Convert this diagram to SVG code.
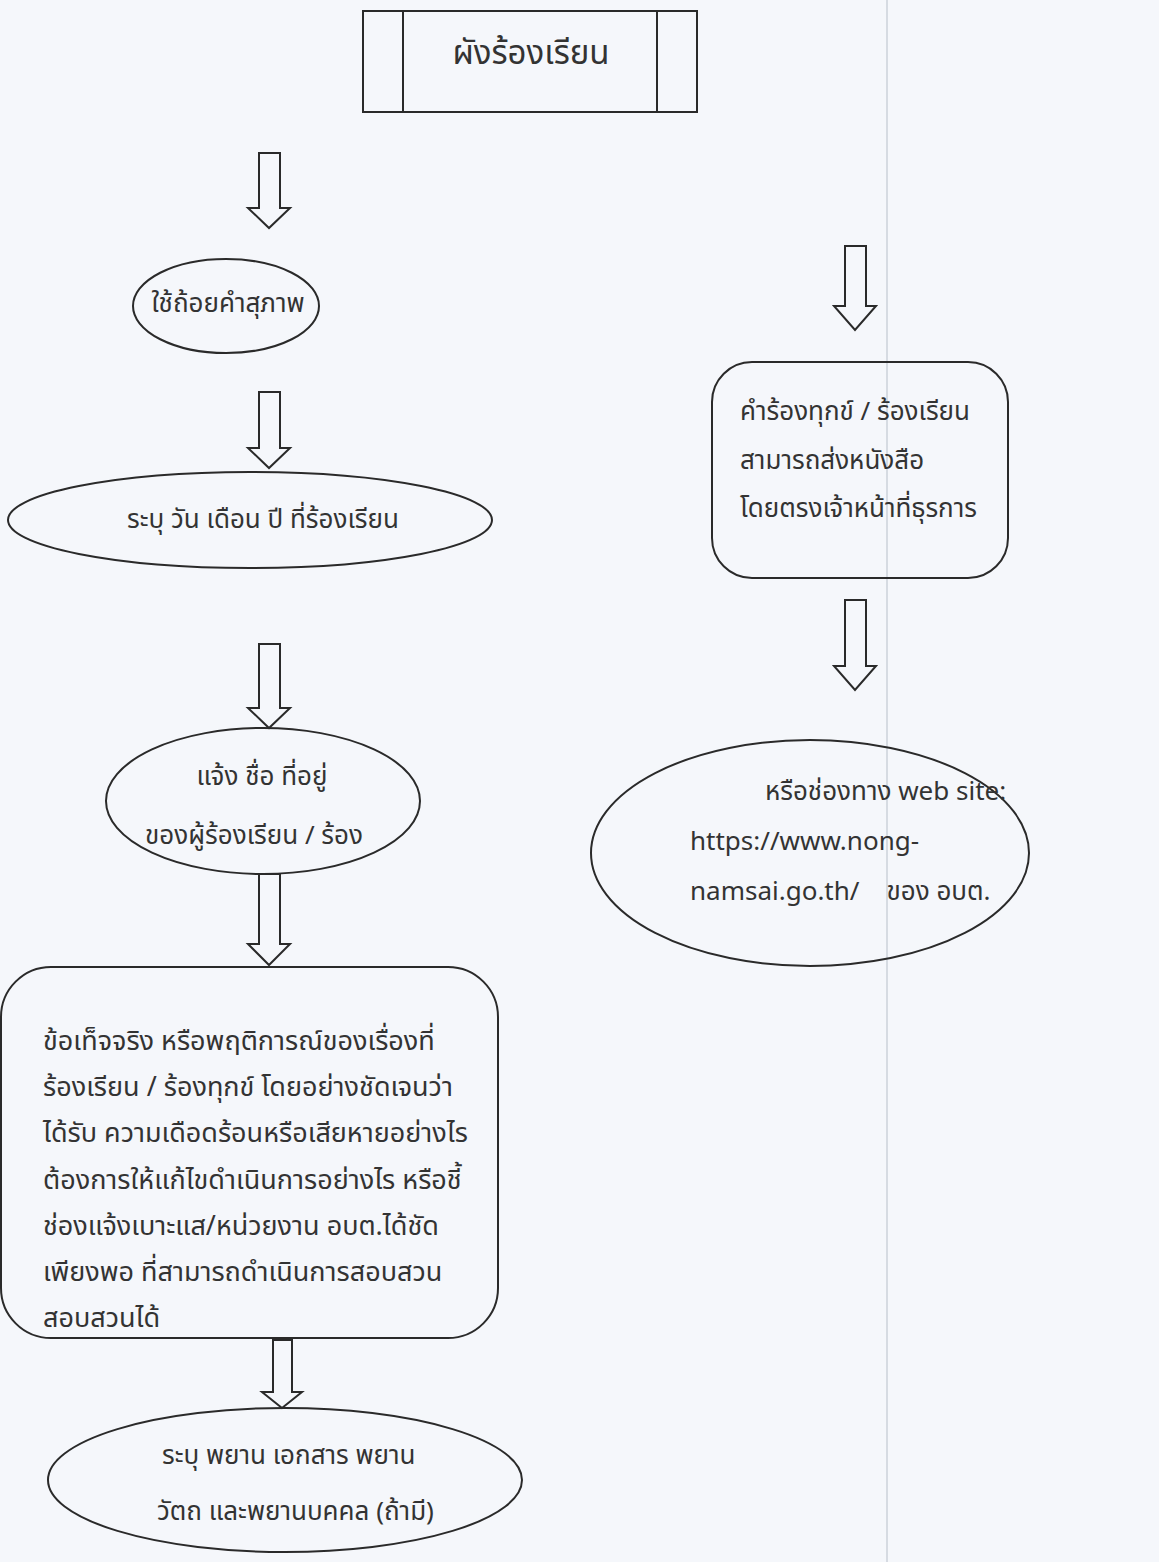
<svg xmlns="http://www.w3.org/2000/svg" width="1159" height="1562" viewBox="0 0 1159 1562">
<style>
.bg{fill:#f5f7fb}
.shape{fill:none;stroke:#2a2a2a;stroke-width:2}
.arrow{fill:#f5f7fb;stroke:#2a2a2a;stroke-width:2;stroke-linejoin:miter}
.t{font-family:"Noto Sans Thai","Noto Sans","DejaVu Sans",sans-serif;font-size:26px;fill:#333}
.big{font-size:27px}
.title{font-size:33px}
.fold{stroke:#d6dbe2;stroke-width:2}
</style>
<rect class="bg" x="0" y="0" width="1159" height="1562"/>
<line class="fold" x1="887" y1="0" x2="887" y2="1562"/>

<g id="connectors">
  <path class="arrow" d="M259,153 L280,153 L280,208 L290,208 L269,228 L248,208 L259,208 Z"/>
  <path class="arrow" d="M259,392 L280,392 L280,448 L290,448 L269,468 L248,448 L259,448 Z"/>
  <path class="arrow" d="M259,644 L280,644 L280,708 L290,708 L269,728 L248,708 L259,708 Z"/>
  <path class="arrow" d="M259,874 L280,874 L280,944 L290,944 L269,965 L248,944 L259,944 Z"/>
  <path class="arrow" d="M273,1340 L292,1340 L292,1392 L302,1392 L282,1408 L262,1392 L273,1392 Z"/>
  <path class="arrow" d="M845,246 L866,246 L866,306 L876,306 L855,330 L834,306 L845,306 Z"/>
  <path class="arrow" d="M845,600 L866,600 L866,666 L876,666 L855,690 L834,666 L845,666 Z"/>
</g>

<g id="title">
  <rect class="shape" x="363" y="11" width="334" height="101"/>
  <line class="shape" x1="403" y1="11" x2="403" y2="112"/>
  <line class="shape" x1="657" y1="11" x2="657" y2="112"/>
  <text class="t title" x="531" y="64" text-anchor="middle">ผังร้องเรียน</text>
</g>

<g id="polite">
  <ellipse class="shape" cx="226" cy="306" rx="93" ry="47"/>
  <text class="t" x="228" y="312" text-anchor="middle">ใช้ถ้อยคำสุภาพ</text>
</g>

<g id="date">
  <ellipse class="shape" cx="250" cy="520" rx="242" ry="48"/>
  <text class="t" x="263" y="528" text-anchor="middle">ระบุ วัน เดือน ปี ที่ร้องเรียน</text>
</g>

<g id="name">
  <ellipse class="shape" cx="263" cy="801" rx="157" ry="73"/>
  <text class="t" x="262" y="785" text-anchor="middle">แจ้ง ชื่อ ที่อยู่</text>
  <text class="t" x="254" y="844" text-anchor="middle">ของผู้ร้องเรียน / ร้อง</text>
</g>

<g id="facts">
  <rect class="shape" x="1" y="967" width="497" height="371" rx="50" ry="50"/>
  <text class="t big" x="43" y="1050">ข้อเท็จจริง หรือพฤติการณ์ของเรื่องที่</text>
  <text class="t big" x="43" y="1096">ร้องเรียน / ร้องทุกข์ โดยอย่างชัดเจนว่า</text>
  <text class="t big" x="43" y="1142">ได้รับ ความเดือดร้อนหรือเสียหายอย่างไร</text>
  <text class="t big" x="43" y="1189">ต้องการให้แก้ไขดำเนินการอย่างไร หรือชี้</text>
  <text class="t big" x="43" y="1235">ช่องแจ้งเบาะแส/หน่วยงาน อบต.ได้ชัด</text>
  <text class="t big" x="43" y="1281">เพียงพอ ที่สามารถดำเนินการสอบสวน</text>
  <text class="t big" x="43" y="1327">สอบสวนได้</text>
</g>

<g id="evidence">
  <ellipse class="shape" cx="285" cy="1480" rx="237" ry="72"/>
  <text class="t" x="162" y="1464">ระบุ พยาน เอกสาร พยาน</text>
  <text class="t" x="157" y="1520">วัตถ และพยานบคคล (ถ้ามี)</text>
</g>

<g id="letter">
  <rect class="shape" x="712" y="362" width="296" height="216" rx="40" ry="40"/>
  <text class="t" x="740" y="420">คำร้องทุกข์ / ร้องเรียน</text>
  <text class="t" x="740" y="469">สามารถส่งหนังสือ</text>
  <text class="t" x="740" y="517">โดยตรงเจ้าหน้าที่ธุรการ</text>
</g>

<g id="website">
  <ellipse class="shape" cx="810" cy="853" rx="219" ry="113"/>
  <text class="t" x="765" y="800">หรือช่องทาง web site:</text>
  <text class="t" x="690" y="850">https://www.nong-</text>
  <text class="t" x="690" y="900" xml:space="preserve">namsai.go.th/    ของ อบต.</text>
</g>
</svg>
